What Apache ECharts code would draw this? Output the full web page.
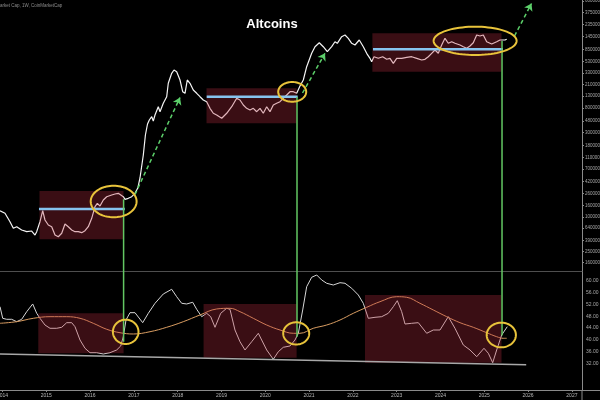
<!DOCTYPE html>
<html><head><meta charset="utf-8">
<script src="https://cdn.jsdelivr.net/npm/echarts@6/dist/echarts.min.js"></script>
<style>html,body{margin:0;padding:0;background:#000;}#c{width:600px;height:400px;}</style>
</head><body><div id="c"></div>
<script>
// ---- price (altcoin market cap, billions USD), weekly-ish samples ----
const priceYears = [2013.943,2014.057,2014.171,2014.247,2014.324,2014.438,2014.553,2014.667,2014.742,2014.781,
2014.856,2014.918,2014.970,2015.046,2015.123,2015.199,2015.274,2015.352,2015.427,2015.502,
2015.580,2015.655,2015.731,2015.808,2015.884,2015.959,2016.037,2016.112,2016.165,2016.226,
2016.302,2016.379,2016.493,2016.569,2016.644,2016.683,2016.758,2016.797,2016.872,2016.950,
2017.025,2017.089,2017.139,2017.215,2017.263,2017.311,2017.352,2017.407,2017.443,2017.482,
2017.557,2017.596,2017.671,2017.749,2017.785,2017.863,2017.916,2017.977,2018.053,2018.114,
2018.167,2018.219,2018.281,2018.356,2018.434,2018.509,2018.584,2018.662,2018.737,2018.813,
2018.890,2019.005,2019.119,2019.233,2019.347,2019.422,2019.498,2019.575,2019.651,2019.726,
2019.804,2019.879,2019.954,2020.032,2020.107,2020.183,2020.260,2020.336,2020.411,2020.489,
2020.564,2020.640,2020.717,2020.792,2020.868,2020.945,2021.059,2021.135,2021.233,2021.324,
2021.416,2021.516,2021.591,2021.644,2021.744,2021.820,2021.895,2021.973,2022.048,2022.146,
2022.238,2022.315,2022.390,2022.429,2022.482,2022.580,2022.680,2022.772,2022.847,2022.923,
2023.000,2023.114,2023.229,2023.343,2023.457,2023.571,2023.646,2023.722,2023.799,2023.874,
2023.950,2024.027,2024.103,2024.178,2024.256,2024.331,2024.445,2024.521,2024.598,2024.674,
2024.749,2024.827,2024.902,2024.977,2025.055,2025.169,2025.283,2025.359,2025.473,2025.512];
const priceValues = [1.294,1.165,0.831,0.637,0.679,0.595,0.556,0.571,0.486,0.556,
0.831,1.294,0.890,0.727,0.679,0.486,0.454,0.521,0.757,0.679,
0.595,0.556,0.556,0.534,0.578,0.679,0.953,1.520,1.743,1.563,
1.990,2.273,2.434,2.534,2.606,2.503,2.273,2.047,2.131,2.273,
2.606,3.226,4.826,12.18,27.25,42.43,49.84,56.92,47.88,60.95,
85.13,69.6,97.6,127.3,218.4,326.6,372.9,348.3,249.4,155.7,
146.0,249.4,218.4,166.7,146.0,127.3,111.5,104.1,79.8,65.3,
60.95,53.4,65.3,85.1,119.4,111.5,91.2,79.8,74.6,79.8,
69.6,79.8,65.3,85.1,69.6,91.2,97.6,104.1,119.4,136.3,
155.7,155.7,146.0,195.9,249.4,426.0,730.6,952.8,1119,952.8,
779,952.8,1165,1093,1425,1526,1336,1093,1020,1248,
952.8,730.6,597.3,521.0,637.3,597.3,637.3,574,597,488.5,
597,597,622,637,597,557.8,574,637,730.6,834.3,
730.6,1020,1336,1093,1165,1093,1020,952.8,893.5,980,
1119,1526,1466,1526,1165,1062,1165,1248,1248,1283];

// ---- RSI and its moving average ----
const rsiYears = [2013.943,2014.005,2014.096,2014.210,2014.324,2014.438,2014.553,2014.690,2014.781,2014.856,
2014.970,2015.085,2015.238,2015.352,2015.466,2015.580,2015.655,2015.770,2015.884,2015.998,
2016.151,2016.302,2016.454,2016.607,2016.699,2016.758,2016.820,2016.911,2017.025,2017.201,
2017.329,2017.482,2017.671,2017.863,2017.977,2018.091,2018.205,2018.343,2018.434,2018.548,
2018.662,2018.754,2018.852,2018.982,2019.119,2019.194,2019.308,2019.422,2019.537,2019.690,
2019.841,2020.032,2020.183,2020.297,2020.411,2020.564,2020.678,2020.754,2020.854,2020.945,
2021.059,2021.174,2021.288,2021.402,2021.553,2021.706,2021.820,2021.973,2022.124,2022.238,
2022.352,2022.505,2022.658,2022.808,2022.923,2023.014,2023.114,2023.190,2023.343,2023.494,
2023.685,2023.836,2023.989,2024.178,2024.331,2024.521,2024.674,2024.827,2024.993,2025.092,
2025.192,2025.283,2025.397,2025.525];
const rsiValues = [51.26,47.31,46.97,46.97,46.16,46.97,49.56,52.18,49.01,47.31,
45.03,43.91,43.91,44.25,45.82,45.82,44.46,39.93,37.11,35.61,
35.61,35.17,35.61,36.53,37.89,41.05,46.73,49.22,49.22,45.82,
49.01,52.41,55.58,57.18,54.66,52.41,52.18,52.76,50.37,47.86,
49.01,47.86,44.25,49.01,50.71,50.37,43.33,39.35,36.53,39.35,
42.21,36.53,33.37,35.95,37.45,37.89,39.93,42.21,50.14,58.06,
61.26,62.04,60.34,59.22,58.64,59.42,59.22,57.52,55.24,52.41,
47.31,47.65,47.86,49.01,51.26,53.30,49.56,45.37,45.61,45.82,
42.21,43.33,43.33,47.86,43.91,38.23,36.53,34.25,37.11,35.41,
32.21,36.53,41.63,44.46];
const maYears = [2013.943,2014.324,2014.703,2015.085,2015.466,2015.770,2016.073,2016.379,2016.683,2016.987,
2017.368,2017.749,2018.128,2018.509,2018.890,2019.194,2019.422,2019.726,2020.032,2020.336,
2020.640,2020.792,2021.096,2021.402,2021.706,2022.009,2022.315,2022.619,2023.000,2023.229,
2023.532,2023.836,2024.142,2024.445,2024.749,2025.055,2025.283,2025.434,2025.512];
const maValues = [45.61,46.16,47.31,47.86,47.86,47.31,45.61,43.57,42.41,41.97,
42.75,44.25,46.16,48.44,50.48,50.71,49.56,47.31,45.03,43.33,
42.21,42.21,43.91,45.03,46.73,49.01,51.05,52.96,54.66,54.46,
52.41,50.14,47.86,45.82,44.25,42.41,41.05,40.51,40.51];

// ---- tick labels ----
const yearTicks = [2014,2015,2016,2017,2018,2019,2020,2021,2022,2023,2024,2025,2026,2027];
const priceTickValues = [6000,3750,2350,1450,850,530,330,210,130,80,48,30,18,11,7,4.2,2.6,1.6,1.0,0.64,0.39,0.25,0.16];
const priceTickLabels = ['6000000','3750000','2350000','1450000','8500000','5300000','3300000','2100000','1300000','8000000','4800000','3000000','1800000','1100000','7000000','4200000','2600000','1600000','1000000','6400000','3900000','2500000','1600000'];
const rsiTickValues = [60,56,52,48,44,40,36,32];
const rsiTickLabels = ['60.00','56.00','52.00','48.00','44.00','40.00','36.00','32.00'];

// ---- annotations (data coordinates) ----
const priceBoxes = [[2014.845,0.409,2016.763,2.86],[2018.658,43.6,2020.715,178.6],[2022.445,348,2025.393,1633]];
const rsiBoxes = [[2014.817,35.4,2016.765,49.0],[2018.591,33.9,2020.715,52.2],[2022.276,32.2,2025.393,55.2]];
const levelLines = [[2014.833,2016.792,1.39],[2018.662,2020.740,127],[2022.459,2025.427,858]];
const signalYears = [2016.765,2020.724,2025.405];
const signalPrice = [2.05,126,1199];
const signalRsi = [39.3,41.0,41.5];
const arrows = [[2017.025,2.484,2018.053,123.3],[2020.850,147.8,2021.363,730.6],[2025.690,1466,2026.078,5424]];
const priceRings = [[2016.014,0.992,2017.062,3.538],[2020.295,104.1,2020.934,230.1],[2023.843,682,2025.738,2132]];
const rsiRings = [[2016.521,38.57,2017.105,46.84],[2020.409,38.40,2021.003,45.95],[2025.055,37.45,2025.722,45.82]];
const trendLine = [[2013.943,35.17],[2025.957,31.53]];

// ---- axis ranges ----
const X_MIN = 2013.943, X_MAX_TOP = 2027.231, X_MAX_BOT = 2027.642;
const P_LOG_MIN = -0.9423, P_LOG_MAX = 3.7955;
const RSI_MIN = 22.92, RSI_MAX = 63.40;

const lg = Math.log10;
const BOX = 'rgba(187,45,65,0.31)', BLUE = '#86c4ef', GREEN = '#63c763', ARROW = '#5ccf6a', YEL = '#e8c33b';

function rectItem(params, api) {
  const p0 = api.coord([api.value(0), api.value(1)]);
  const p1 = api.coord([api.value(2), api.value(3)]);
  return {type:'rect', shape:{x:Math.min(p0[0],p1[0]), y:Math.min(p0[1],p1[1]), width:Math.abs(p1[0]-p0[0]), height:Math.abs(p1[1]-p0[1])}, style:{fill:BOX}};
}
function ringItem(params, api) {
  const p0 = api.coord([api.value(0), api.value(1)]);
  const p1 = api.coord([api.value(2), api.value(3)]);
  const cx=(p0[0]+p1[0])/2, cy=(p0[1]+p1[1])/2, rx=Math.abs(p1[0]-p0[0])/2, ry=Math.abs(p1[1]-p0[1])/2;
  const pts=[];
  for(let i=0;i<80;i++){const t=i/80*Math.PI*2; pts.push([cx+rx*Math.cos(t), cy+ry*Math.sin(t)]);}
  return {type:'polygon', shape:{points:pts}, style:{fill:'none', stroke:YEL, lineWidth:2}};
}
function nearestLabel(vals, labels, v){let b=0,d=Infinity;vals.forEach((x,i)=>{const e=Math.abs(x-v);if(e<d){d=e;b=i;}});return labels[b];}

const chart = echarts.init(document.getElementById('c'), null, {renderer:'canvas'});
const series = [];
series.push({type:'line', xAxisIndex:0, yAxisIndex:0, z:2, symbol:'none', silent:true,
  data: priceYears.map((x,i)=>[x, lg(priceValues[i])]), lineStyle:{color:'#f4f4f4', width:1.2}});
series.push({type:'line', xAxisIndex:1, yAxisIndex:1, z:2, symbol:'none', silent:true,
  data: rsiYears.map((x,i)=>[x, rsiValues[i]]), lineStyle:{color:'#d6d6d6', width:1}});
series.push({type:'line', xAxisIndex:1, yAxisIndex:1, z:2, symbol:'none', silent:true, smooth:0.4,
  data: maYears.map((x,i)=>[x, maValues[i]]), lineStyle:{color:'#d99d62', width:1}});
series.push({type:'custom', xAxisIndex:0, yAxisIndex:0, z:3, silent:true, renderItem:rectItem,
  data: priceBoxes.map(b=>[b[0], lg(b[1]), b[2], lg(b[3])])});
series.push({type:'custom', xAxisIndex:1, yAxisIndex:1, z:3, silent:true, renderItem:rectItem, data: rsiBoxes});
levelLines.forEach(l=>series.push({type:'line', xAxisIndex:0, yAxisIndex:0, z:4, symbol:'none', silent:true,
  data:[[l[0], lg(l[2])],[l[1], lg(l[2])]], lineStyle:{color:BLUE, width:2.5}}));
signalYears.forEach((x,i)=>{
  series.push({type:'line', xAxisIndex:0, yAxisIndex:0, z:4, symbol:'none', silent:true,
    data:[[x, lg(signalPrice[i])],[x, P_LOG_MIN]], lineStyle:{color:GREEN, width:1.5}});
  series.push({type:'line', xAxisIndex:1, yAxisIndex:1, z:4, symbol:'none', silent:true,
    data:[[x, RSI_MAX],[x, signalRsi[i]]], lineStyle:{color:GREEN, width:1.5}});
});
series.push({type:'line', xAxisIndex:1, yAxisIndex:1, z:4, symbol:'none', silent:true,
  data: trendLine, lineStyle:{color:'#a8a8a8', width:1.5}});
series.push({type:'line', xAxisIndex:0, yAxisIndex:0, z:4, data:[], silent:true,
  markLine:{silent:true, animation:false, symbol:['none','arrow'], symbolSize:7, label:{show:false},
    lineStyle:{color:ARROW, type:[4,3], width:1.5},
    data: arrows.map(a=>[{coord:[a[0], lg(a[1])]},{coord:[a[2], lg(a[3])]}])}});
series.push({type:'custom', xAxisIndex:0, yAxisIndex:0, z:5, silent:true, renderItem:ringItem, clip:false,
  data: priceRings.map(r=>[r[0], lg(r[1]), r[2], lg(r[3])])});
series.push({type:'custom', xAxisIndex:1, yAxisIndex:1, z:5, silent:true, renderItem:ringItem, clip:false, data: rsiRings});

const lblFont = {fontFamily:'"Liberation Sans", Arial, sans-serif'};
chart.setOption({
  animation:false,
  backgroundColor:'#000',
  grid:[{left:0,right:18,top:0,height:271,containLabel:false,outerBoundsMode:'none'},
        {left:0,right:0,top:271,height:119,containLabel:false,outerBoundsMode:'none'}],
  xAxis:[
    {gridIndex:0, type:'value', min:X_MIN, max:X_MAX_TOP, axisLine:{show:true, onZero:false, lineStyle:{color:'#4e4e4e', width:1}},
      axisTick:{show:false}, axisLabel:{show:false}, splitLine:{show:false}},
    {gridIndex:1, type:'value', min:X_MIN, max:X_MAX_BOT, axisLine:{show:true, onZero:false, lineStyle:{color:'#8a8a8a', width:1}},
      axisTick:{show:true, customValues:yearTicks, length:2, lineStyle:{color:'#8a8a8a'}},
      axisLabel:Object.assign({customValues:yearTicks, formatter:v=>String(Math.round(v)), fontSize:5, color:'#b8b8b8', margin:3}, lblFont),
      splitLine:{show:false}}
  ],
  yAxis:[
    {gridIndex:0, type:'value', position:'right', min:P_LOG_MIN, max:P_LOG_MAX,
      axisLine:{show:true, onZero:false, lineStyle:{color:'#8a8a8a', width:1}},
      axisTick:{show:true, customValues:priceTickValues.map(lg), length:2, lineStyle:{color:'#8a8a8a'}},
      axisLabel:Object.assign({customValues:priceTickValues.map(lg), formatter:v=>nearestLabel(priceTickValues.map(lg), priceTickLabels, v), fontSize:4.5, color:'#a8a8a8', margin:3}, lblFont),
      splitLine:{show:false}},
    {gridIndex:1, type:'value', position:'right', offset:-18, min:RSI_MIN, max:RSI_MAX,
      axisLine:{show:true, onZero:false, lineStyle:{color:'#8a8a8a', width:1}},
      axisTick:{show:false},
      axisLabel:Object.assign({customValues:rsiTickValues, formatter:v=>nearestLabel(rsiTickValues, rsiTickLabels, v), fontSize:5, color:'#a8a8a8', margin:4}, lblFont),
      splitLine:{show:false}}
  ],
  graphic:[
    {type:'text', x:272, y:24, style:{text:'Altcoins', fill:'#ffffff', font:'bold 13px "Liberation Sans", Arial, sans-serif', textAlign:'center', verticalAlign:'middle'}},
    {type:'text', x:0, y:6, style:{text:'arket Cap, 1W, CoinMarketCap', fill:'#8c8c8c', font:'4.5px "Liberation Sans", Arial, sans-serif', textAlign:'left', verticalAlign:'middle'}},
    {type:'line', shape:{x1:582, y1:390, x2:582, y2:400}, style:{stroke:'#8a8a8a', lineWidth:1}}
  ],
  series: series
});
</script></body></html>
